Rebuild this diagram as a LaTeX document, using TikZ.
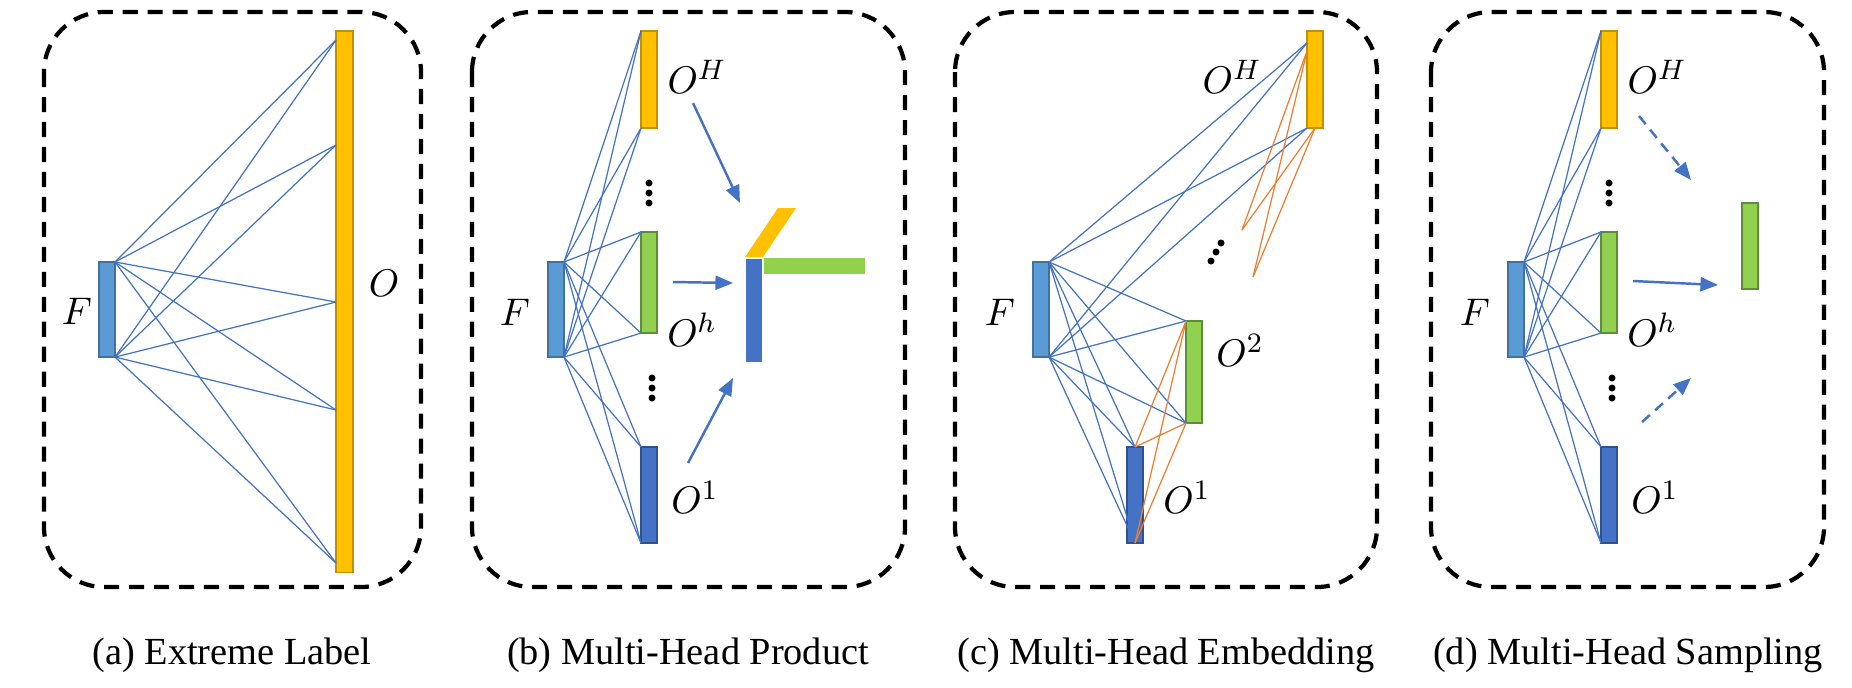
\documentclass[tikz,border=0pt]{standalone}
\usepackage{fontspec}
\setmainfont{Liberation Serif}
\newfontfamily\capserif{Liberation Serif}
\usetikzlibrary{positioning, arrows.meta, calc}
\definecolor{featblue}{HTML}{5B9BD5}
\definecolor{featedge}{HTML}{41719C}
\definecolor{headgold}{HTML}{FFC000}
\definecolor{goldedge}{HTML}{BF9000}
\definecolor{headgreen}{HTML}{92D050}
\definecolor{greenedge}{HTML}{5E8E3A}
\definecolor{headblue}{HTML}{4472C4}
\definecolor{blueedge}{HTML}{2F528F}
\definecolor{linkorange}{HTML}{ED7D31}
\tikzset{>={Triangle[length=5pt,width=4pt]}}

\begin{document}
\begin{tikzpicture}[x=0.01cm, y=-0.01cm,
  bar/.style={rectangle, inner sep=0pt, outer sep=0pt, minimum width=0.16cm, anchor=north west, line width=0.4pt},
  feat/.style={bar, fill=featblue, draw=featedge, minimum height=0.95cm},
  gold/.style={bar, fill=headgold, draw=goldedge},
  leaf/.style={bar, fill=headgreen, draw=greenedge},
  deep/.style={bar, fill=headblue, draw=blueedge},
  pane/.style={line width=1.2pt, dash pattern=on 4.3pt off 2.8pt, rounded corners=0.6cm},
  mesh/.style={draw=headblue, line width=0.35pt},
  link/.style={draw=linkorange, line width=0.35pt},
  flow/.style={draw=headblue, line width=0.7pt, ->, >={Triangle[length=5pt,width=4pt]}},
  lbl/.style={font=\fontsize{11}{12}\selectfont, inner sep=0pt},
  subcap/.style={font=\capserif\fontsize{10.9}{13}\selectfont, anchor=base, inner sep=0pt}]
  \useasboundingbox (0,0) rectangle (1852,687);

  % (a) extreme label
  \draw[pane] (44,12) rectangle (421,587);
  \node[feat] (Fa) at (99,262) {};
  \node[gold, minimum width=0.17cm, minimum height=5.41cm] (Oa) at (336,31) {};
  \node[lbl] (Fa-l) at (77,311) {$F$};
  \node[lbl] (Oa-l) at (384,283) {$O$};
  \foreach \t [count=\i] in {40,145,302,410,563} {
    \coordinate (pa\i) at (336,\t);
    \draw[mesh] (Fa.north east) -- (pa\i);
    \draw[mesh] (Fa.south east) -- (pa\i);
  }

  % (b) multi-head product
  \draw[pane] (472,12) rectangle (905,587);
  \node[feat] (Fb) at (548,262) {};
  \node[gold, minimum height=0.97cm] (ObH) at (641,31) {};
  \node[leaf, minimum height=1.01cm] (Obh) at (641,232) {};
  \node[deep, minimum height=0.96cm] (Ob1) at (641,447) {};
  \foreach \o in {ObH,Obh,Ob1} {
    \draw[mesh] (Fb.north east) -- (\o.north west);
    \draw[mesh] (Fb.north east) -- (\o.south west);
    \draw[mesh] (Fb.south east) -- (\o.north west);
    \draw[mesh] (Fb.south east) -- (\o.south west);
  }
  \node[lbl] (Fb-l) at (515,312) {$F$};
  \node[lbl] (ObH-l) at (697,77) {$O^H$};
  \node[lbl] (Obh-l) at (692,330) {$O^h$};
  \node[lbl] (Ob1-l) at (695,497) {$O^1$};
  \foreach \y in {183,193,203} \fill (649,\y) circle[radius=0.035cm];
  \foreach \y in {378,388,398} \fill (652,\y) circle[radius=0.035cm];
  \node[bar, fill=headblue, minimum height=1.03cm] (prod) at (746,259) {};
  \fill[headgold] (745,257) -- (763,257) -- (796,208) -- (778,208) -- cycle;
  \fill[headgreen] (764,258) rectangle (865,274);
  \coordinate (b1s) at (693,103); \coordinate (b1e) at (740,203);
  \coordinate (b2s) at (673,282); \coordinate (b2e) at (733,283);
  \coordinate (b3s) at (688,463); \coordinate (b3e) at (733,378);
  \draw[flow] (b1s) -- (b1e);
  \draw[flow] (b2s) -- (b2e);
  \draw[flow] (b3s) -- (b3e);

  % (c) multi-head embedding
  \draw[pane] (955,12) rectangle (1377,587);
  \node[feat] (Fc) at (1033,262) {};
  \node[deep, minimum height=0.96cm] (Oc1) at (1127,447) {};
  \node[leaf, minimum height=1.02cm] (Oc2) at (1186,321) {};
  \node[gold, minimum height=0.97cm] (OcH) at (1307,31) {};
  \coordinate (cHt) at ($(OcH.north west)+(0,12)$);
  \foreach \a in {north east,south east} {
    \draw[mesh] (Fc.\a) -- (Oc1.north);
    \draw[mesh] (Fc.\a) -- (Oc1.south);
    \draw[mesh] (Fc.\a) -- (Oc2.north west);
    \draw[mesh] (Fc.\a) -- (Oc2.south west);
    \draw[mesh] (Fc.\a) -- (cHt);
    \draw[mesh] (Fc.\a) -- (OcH.south west);
  }
  \foreach \a in {north,south} {
    \draw[link] (Oc1.\a) -- (Oc2.north west);
    \draw[link] (Oc1.\a) -- (Oc2.south west);
  }
  \coordinate (cx1) at (1242,230);
  \coordinate (cx2) at (1253,277);
  \coordinate (cHo) at ($(OcH.north west)+(0,20)$);
  \foreach \e in {cx1,cx2} {
    \draw[link] (cHo) -- (\e);
    \draw[link] (OcH.south) -- (\e);
  }
  \foreach \x/\y in {1221/243,1216/252,1211/261} \fill (\x,\y) circle[radius=0.035cm];
  \node[lbl] (Fc-l) at (1000,312) {$F$};
  \node[lbl] (Oc1-l) at (1187,497) {$O^1$};
  \node[lbl] (Oc2-l) at (1240,350) {$O^2$};
  \node[lbl] (OcH-l) at (1232,77) {$O^H$};

  % (d) multi-head sampling
  \draw[pane] (1431,12) rectangle (1824,587);
  \node[feat] (Fd) at (1508,262) {};
  \node[gold, minimum height=0.97cm] (OdH) at (1601,31) {};
  \node[leaf, minimum height=1.01cm] (Odh) at (1601,232) {};
  \node[deep, minimum height=0.96cm] (Od1) at (1601,447) {};
  \foreach \o in {OdH,Odh,Od1} {
    \draw[mesh] (Fd.north east) -- (\o.north west);
    \draw[mesh] (Fd.north east) -- (\o.south west);
    \draw[mesh] (Fd.south east) -- (\o.north west);
    \draw[mesh] (Fd.south east) -- (\o.south west);
  }
  \node[lbl] (Fd-l) at (1475,312) {$F$};
  \node[lbl] (OdH-l) at (1657,77) {$O^H$};
  \node[lbl] (Odh-l) at (1652,330) {$O^h$};
  \node[lbl] (Od1-l) at (1655,497) {$O^1$};
  \foreach \y in {183,193,203} \fill (1609,\y) circle[radius=0.035cm];
  \foreach \y in {378,388,398} \fill (1612,\y) circle[radius=0.035cm];
  \node[leaf, minimum height=0.86cm] (samp) at (1742,203) {};
  \coordinate (d1s) at (1639,116); \coordinate (d1e) at (1691,180);
  \coordinate (d2s) at (1633,281); \coordinate (d2e) at (1718,285);
  \coordinate (d3s) at (1642,422); \coordinate (d3e) at (1691,378);
  \draw[flow, dash pattern=on 3pt off 2pt] (d1s) -- (d1e);
  \draw[flow] (d2s) -- (d2e);
  \draw[flow, dash pattern=on 3pt off 2pt] (d3s) -- (d3e);

  % captions
  \node[subcap] (cap-a) at (232,664) {(a) Extreme Label};
  \node[subcap] (cap-b) at (688,664) {(b) Multi-Head Product};
  \node[subcap] (cap-c) at (1166,664) {(c) Multi-Head Embedding};
  \node[subcap] (cap-d) at (1628,664) {(d) Multi-Head Sampling};
\end{tikzpicture}
\end{document}
